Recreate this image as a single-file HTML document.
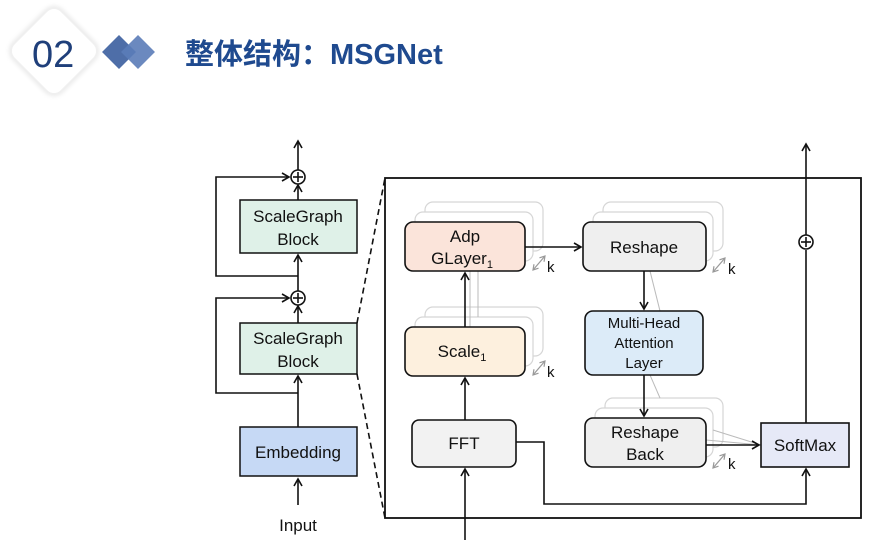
<!DOCTYPE html>
<html><head><meta charset="utf-8"><style>
body{margin:0;width:883px;height:552px;background:#fff;overflow:hidden;font-family:"Liberation Sans",Arial,sans-serif}
</style></head><body>
<svg width="883" height="552" viewBox="0 0 883 552" xmlns="http://www.w3.org/2000/svg" font-family="Liberation Sans, Arial, sans-serif">
<defs>
<marker id="a" markerWidth="10" markerHeight="10" refX="8" refY="5" orient="auto" markerUnits="userSpaceOnUse"><path d="M1,1 L8,5 L1,9" fill="none" stroke="#111" stroke-width="1.6"/></marker>
<marker id="g" markerWidth="8" markerHeight="8" refX="6" refY="4" orient="auto-start-reverse" markerUnits="userSpaceOnUse"><path d="M1,1 L6,4 L1,7" fill="none" stroke="#999" stroke-width="1.2"/></marker>
<filter id="s" x="-30%" y="-30%" width="160%" height="160%"><feGaussianBlur stdDeviation="2.5"/></filter>
</defs>
<!-- header -->
<rect x="21" y="18" width="66" height="66" rx="10" transform="rotate(45 54 51)" fill="none" stroke="#e4e4e4" stroke-width="4" filter="url(#s)"/>
<rect x="21" y="18" width="66" height="66" rx="10" transform="rotate(45 54 51)" fill="#fff" stroke="#f0f0f0" stroke-width="1"/>
<text x="32" y="67" font-size="38" fill="#1f3f7a">02</text>
<rect x="107" y="40" width="24" height="24" transform="rotate(45 119 52)" fill="#4e6ea8"/>
<rect x="126" y="40" width="24" height="24" transform="rotate(45 138 52)" fill="#5b7cb8" opacity="0.9"/>
<text x="185" y="64" font-size="29" font-weight="bold" fill="#1f4a8f" font-family="Liberation Sans, Noto Sans CJK SC, sans-serif">整体结构：MSGNet</text>

<g stroke="#111" stroke-width="1.6" fill="none">
<line x1="298" y1="505" x2="298" y2="479" marker-end="url(#a)"/>
<line x1="298" y1="427" x2="298" y2="376" marker-end="url(#a)"/>
<line x1="298" y1="323" x2="298" y2="306" marker-end="url(#a)"/>
<line x1="298" y1="291" x2="298" y2="255" marker-end="url(#a)"/>
<line x1="298" y1="200" x2="298" y2="185" marker-end="url(#a)"/>
<line x1="298" y1="170" x2="298" y2="141" marker-end="url(#a)"/>
<polyline points="298,393 216,393 216,298 289,298" marker-end="url(#a)"/>
<polyline points="298,276 216,276 216,177 289,177" marker-end="url(#a)"/>
<circle cx="298" cy="298" r="7"/><line x1="293" y1="298" x2="303" y2="298"/><line x1="298" y1="293" x2="298" y2="303"/>
<circle cx="298" cy="177" r="7"/><line x1="293" y1="177" x2="303" y2="177"/><line x1="298" y1="172" x2="298" y2="182"/>
<line x1="357" y1="323" x2="385" y2="178" stroke-dasharray="6,4"/>
<line x1="357" y1="374" x2="385" y2="518" stroke-dasharray="6,4"/>
<rect x="385" y="178" width="476" height="340" stroke-width="1.8"/>
</g>
<rect x="240" y="200" width="117" height="53" fill="#dff1e8" stroke="#111" stroke-width="1.5"/>
<rect x="240" y="323" width="117" height="51" fill="#dff1e8" stroke="#111" stroke-width="1.5"/>
<rect x="240" y="427" width="117" height="49" fill="#c6d9f5" stroke="#111" stroke-width="1.5"/>
<g font-size="17" fill="#111" text-anchor="middle">
<text x="298" y="222">ScaleGraph</text><text x="298" y="245">Block</text>
<text x="298" y="344">ScaleGraph</text><text x="298" y="367">Block</text>
<text x="298" y="458">Embedding</text>
<text x="298" y="531">Input</text>
</g>

<g fill="#fff" stroke="#ccc" stroke-width="1.2" opacity="0.8">
<rect x="425" y="202" width="118" height="49" rx="8"/><rect x="415" y="212" width="118" height="49" rx="8"/>
<rect x="425" y="307" width="118" height="49" rx="8"/><rect x="415" y="317" width="118" height="49" rx="8"/>
<rect x="603" y="202" width="120" height="49" rx="8"/><rect x="593" y="212" width="120" height="49" rx="8"/>
<rect x="605" y="398" width="118" height="49" rx="8"/><rect x="595" y="408" width="118" height="49" rx="8"/>
</g>
<g stroke="#bbb" stroke-width="1" fill="none">
<line x1="470" y1="327" x2="470" y2="271"/><line x1="478" y1="317" x2="478" y2="261"/>
<line x1="706" y1="440" x2="761" y2="445"/><line x1="713" y1="430" x2="761" y2="445"/>
<line x1="650" y1="271" x2="660" y2="311"/><line x1="650" y1="375" x2="660" y2="398"/>
</g>
<g stroke="#111" stroke-width="1.6">
<rect x="405" y="222" width="120" height="49" rx="8" fill="#fbe4da"/>
<rect x="583" y="222" width="123" height="49" rx="8" fill="#efefef"/>
<rect x="405" y="327" width="120" height="49" rx="8" fill="#fdf0de"/>
<rect x="585" y="311" width="118" height="64" rx="8" fill="#dcebf8"/>
<rect x="412" y="420" width="104" height="47" rx="7" fill="#f2f2f2"/>
<rect x="585" y="418" width="121" height="49" rx="8" fill="#efefef"/>
<rect x="761" y="423" width="88" height="44" fill="#e6e9f7"/>
</g>
<g stroke="#111" stroke-width="1.6" fill="none">
<line x1="465" y1="540" x2="465" y2="469" marker-end="url(#a)"/>
<line x1="465" y1="420" x2="465" y2="378" marker-end="url(#a)"/>
<line x1="465" y1="327" x2="465" y2="273" marker-end="url(#a)"/>
<line x1="525" y1="247" x2="581" y2="247" marker-end="url(#a)"/>
<line x1="644" y1="271" x2="644" y2="309" marker-end="url(#a)"/>
<line x1="644" y1="375" x2="644" y2="416" marker-end="url(#a)"/>
<line x1="706" y1="445" x2="759" y2="445" marker-end="url(#a)"/>
<polyline points="516,442 544,442 544,504 806,504 806,469" marker-end="url(#a)"/>
<line x1="806" y1="423" x2="806" y2="250"/>
<line x1="806" y1="235" x2="806" y2="144" marker-end="url(#a)"/>
<circle cx="806" cy="242" r="7"/><line x1="801" y1="242" x2="811" y2="242"/><line x1="806" y1="237" x2="806" y2="247"/>
</g>
<g stroke="#999" stroke-width="1.2" fill="none">
<line x1="533" y1="270" x2="545" y2="256" marker-start="url(#g)" marker-end="url(#g)"/>
<line x1="533" y1="375" x2="545" y2="361" marker-start="url(#g)" marker-end="url(#g)"/>
<line x1="713" y1="272" x2="725" y2="258" marker-start="url(#g)" marker-end="url(#g)"/>
<line x1="713" y1="468" x2="725" y2="454" marker-start="url(#g)" marker-end="url(#g)"/>
</g>
<g font-size="15" fill="#111"><text x="547" y="272">k</text><text x="547" y="377">k</text><text x="728" y="274">k</text><text x="728" y="469">k</text></g>
<g font-size="17" fill="#111" text-anchor="middle">
<text x="465" y="242">Adp</text><text x="462" y="264">GLayer<tspan font-size="11" dy="4">1</tspan></text>
<text x="644" y="253">Reshape</text>
<text x="462" y="357">Scale<tspan font-size="11" dy="4">1</tspan></text>
<text x="644" y="328" font-size="15">Multi-Head</text><text x="644" y="348" font-size="15">Attention</text><text x="644" y="368" font-size="15">Layer</text>
<text x="464" y="449">FFT</text>
<text x="645" y="438">Reshape</text><text x="645" y="460">Back</text>
<text x="805" y="451">SoftMax</text>
</g>
</svg>
</body></html>
